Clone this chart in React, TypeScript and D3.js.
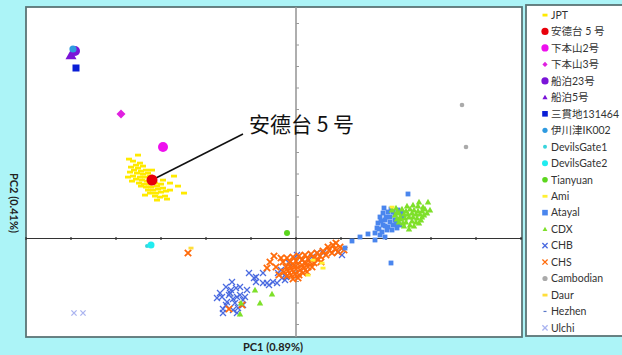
import React from "react";
import * as d3 from "d3";

// PC scores (x1000)
const JPT: [number, number][] = [
  [-31.6, 16.7], [-33.4, 15.9], [-32.6, 15.5], [-31.2, 15.1], [-32.0, 14.7], [-33.0, 14.3], [-30.6, 14.5],
  [-31.6, 14.1], [-32.4, 13.7], [-31.0, 13.5], [-30.0, 13.7], [-33.2, 13.3], [-31.8, 13.1], [-30.6, 12.9],
  [-29.6, 13.1], [-32.6, 12.5], [-31.2, 12.3], [-30.2, 12.3], [-29.2, 12.5], [-32.0, 11.9], [-30.8, 11.7],
  [-29.8, 11.5], [-28.6, 11.9], [-31.4, 11.1], [-30.4, 10.9], [-29.4, 10.9], [-28.2, 11.1], [-31.0, 10.5],
  [-30.0, 10.3], [-29.0, 10.3], [-27.8, 10.5], [-27.0, 10.9], [-29.6, 9.7], [-28.6, 9.7], [-27.6, 9.9],
  [-26.6, 10.1], [-29.2, 9.1], [-28.0, 9.1], [-27.0, 9.3], [-26.0, 9.5], [-28.2, 8.5], [-27.2, 8.3],
  [-26.2, 8.5], [-27.8, 7.7], [-26.6, 11.7], [-25.2, 11.1], [-23.6, 10.5], [-22.4, 9.1], [-25.8, 7.9],
  [-32.8, 11.5], [-33.6, 12.3], [-30.2, 8.7], [-25.2, 9.7], [-24.4, 12.5], [-28.8, 13.7],
];
const ANDEDAI5: [number, number][] = [[-28.8, 11.7]];
const SHIMOMOTO2: [number, number][] = [[-26.6, 18.3]];
const SHIMOMOTO3: [number, number][] = [[-35.0, 24.9]];
const FUNADOMARI23: [number, number][] = [[-44.2, 37.5]];
const FUNADOMARI5: [number, number][] = [[-45.0, 36.7]];
const SANGANJI: [number, number][] = [[-44.0, 34.1]];
const IKAWAZU: [number, number][] = [[-44.6, 37.9]];
const DEVILSGATE1: [number, number][] = [[-29.8, -1.5]];
const DEVILSGATE2: [number, number][] = [[-29.0, -1.3]];
const TIANYUAN: [number, number][] = [[-1.8, 1.1]];
const AMI: [number, number][] = [[19.2, 6.3], [3.4, -4.3], [5.2, -4.9], [5.4, -5.9], [2.4, -7.3]];
const ATAYAL: [number, number][] = [
  [22.4, 8.9], [17.4, 5.1], [16.8, 4.3], [16.4, 3.1], [16.2, 2.1], [15.8, 1.1], [17.2, 1.3], [18.2, 1.7],
  [19.2, 1.7], [20.2, 2.1], [20.8, 2.7], [20.4, 3.7], [19.8, 4.7], [18.4, 5.3], [19.4, 5.3], [17.8, 3.7],
  [18.8, 3.3], [17.4, 2.7], [18.4, 2.3], [19.4, 2.7], [19.8, 3.7], [21.4, 4.3], [21.2, 5.1], [16.8, 0.7],
  [17.8, 0.3], [14.4, 0.9], [15.8, -0.3], [12.8, 0.3], [19.0, -4.9], [18.0, 4.3], [18.8, 4.3], [17.0, 3.5],
  [17.8, 2.5], [16.6, 1.9], [20.0, 2.9], [19.0, 5.9], [17.6, 6.1], [20.4, 5.7], [9.8, -1.9], [11.2, -0.5],
];
const CDX: [number, number][] = [
  [26.4, 7.3], [24.4, 6.5], [23.4, 6.7], [22.2, 6.5], [25.4, 6.3], [26.2, 5.1], [25.2, 4.3], [24.6, 3.1],
  [22.8, 2.7], [21.4, 3.1], [20.8, 4.3], [20.2, 5.3], [21.2, 5.9], [22.0, 5.5], [22.8, 5.9], [23.6, 5.7],
  [24.4, 5.5], [25.2, 5.5], [25.8, 5.9], [19.8, 4.7], [20.6, 5.1], [21.6, 4.9], [22.4, 4.9], [23.2, 5.1],
  [24.0, 4.9], [24.8, 4.9], [25.6, 4.7], [20.2, 3.9], [21.0, 3.9], [21.8, 4.1], [22.6, 4.3], [23.4, 4.3],
  [24.2, 4.1], [25.0, 3.7], [20.6, 3.3], [22.0, 3.3], [23.2, 3.5], [24.0, 3.3], [21.6, 2.5], [23.6, 2.5],
  [22.6, 1.9], [26.8, 5.7], [19.2, 5.7], [20.0, 6.1], [24.6, 7.3],
  [-8.2, -10.3], [-7.2, -12.9], [-4.8, -11.1], [-11.0, -12.9], [-11.2, -15.1],
];
const CHB: [number, number][] = [
  [-15.8, -11.9], [-14.8, -11.7], [-14.0, -9.7], [-13.8, -12.7], [-13.2, -10.9], [-12.8, -8.7], [-12.6, -14.3],
  [-14.6, -14.1], [-14.6, -14.9], [-12.2, -12.9], [-12.0, -9.9], [-11.8, -11.7], [-11.6, -13.9], [-11.2, -9.7],
  [-10.6, -12.3], [-10.6, -13.3], [-9.8, -10.3], [-11.8, -14.9], [-13.4, -11.3], [-12.6, -12.1], [-11.2, -11.3],
  [-14.0, -13.3], [-15.2, -10.9], [-10.2, -11.7], [-13.0, -10.3], [-9.4, -6.9], [-8.0, -7.7], [-8.0, -8.7],
  [-6.6, -6.9], [-6.6, -8.9], [-5.8, -8.9], [-4.6, -8.7], [-3.6, -6.9], [-3.0, -6.3], [-2.8, -7.9],
  [-2.2, -8.3], [-5.4, -9.3], [-3.8, -8.9], [-2.0, -7.7], [-8.4, -7.9], [4.2, -2.9], [5.4, -2.9],
  [3.2, -3.7], [1.2, -4.3], [9.2, -3.3], [8.4, -2.7], [0.2, -3.3], [-1.4, -4.9],
];
const CHS: [number, number][] = [
  [-2.6, -4.7], [-1.8, -3.9], [-1.2, -4.7], [-0.6, -3.7], [0.0, -4.5], [0.6, -3.5], [1.2, -4.3], [1.8, -3.3],
  [2.4, -4.1], [3.0, -3.1], [3.6, -3.9], [4.2, -2.9], [4.8, -3.5], [5.4, -2.5], [6.0, -3.3], [6.6, -2.3],
  [7.2, -2.9], [7.8, -2.1], [8.4, -2.7], [-2.0, -5.7], [-1.2, -5.5], [-0.4, -5.3], [0.4, -5.1], [1.2, -5.3],
  [2.0, -4.9], [2.8, -4.7], [3.6, -4.9], [4.4, -4.3], [-2.4, -6.7], [-1.6, -6.5], [-0.8, -6.3], [0.0, -6.1],
  [0.8, -6.3], [1.6, -5.9], [2.4, -5.7], [3.2, -5.7], [-1.8, -7.5], [-1.0, -7.3], [-0.2, -7.1], [0.6, -7.3],
  [1.4, -6.9], [2.2, -6.7], [-0.6, -8.1], [0.4, -7.9], [-3.0, -3.9], [-4.0, -5.7], [-5.2, -4.7], [-4.4, -3.5],
  [5.0, -4.7], [6.4, -1.7], [7.4, -1.3], [8.0, -0.9], [8.8, -1.7], [9.6, -2.3], [-3.4, -7.3], [-5.8, -5.9],
  [-13.4, -14.1], [-10.8, -13.3], [-21.6, -2.9],
];
const CAMBODIAN: [number, number][] = [[33.2, 26.7], [34.0, 18.3]];
const DAUR: [number, number][] = [[-21.0, -1.9]];
const HEZHEN: [number, number][] = [[-12.8, -11.5]];
const ULCHI: [number, number][] = [[-44.4, -14.9], [-42.6, -14.9]];

const X_DOMAIN = [-54, 45.2];
const Y_DOMAIN = [-19.7, 46.3];
const X_TICK_STEP = 9;
const Y_TICK_STEP = 4.3;

type Shape = "dash" | "circle" | "diamond" | "triangle" | "square" | "x" | "smalldash";
interface Series {
  name: string;
  data: [number, number][];
  shape: Shape;
  color: string;
  size: number;
  lsize: number;
}

const SERIES: Series[] = [
  { name: "JPT", data: JPT, shape: "dash", color: "#ffea00", size: 6, lsize: 5 },
  { name: "安德台 5 号", data: ANDEDAI5, shape: "circle", color: "#e8000b", size: 5.5, lsize: 3.6 },
  { name: "下本山2号", data: SHIMOMOTO2, shape: "circle", color: "#ee10ee", size: 5, lsize: 3.6 },
  { name: "下本山3号", data: SHIMOMOTO3, shape: "diamond", color: "#e020e0", size: 4.5, lsize: 2.6 },
  { name: "船泊23号", data: FUNADOMARI23, shape: "circle", color: "#7a14d8", size: 5, lsize: 3.6 },
  { name: "船泊5号", data: FUNADOMARI5, shape: "triangle", color: "#7a14d8", size: 5.5, lsize: 2.6 },
  { name: "三貫地131464", data: SANGANJI, shape: "square", color: "#0a1ed6", size: 3.5, lsize: 2.8 },
  { name: "伊川津IK002", data: IKAWAZU, shape: "circle", color: "#2e9ae0", size: 3.6, lsize: 2.6 },
  { name: "DevilsGate1", data: DEVILSGATE1, shape: "circle", color: "#38d4dc", size: 2, lsize: 2 },
  { name: "DevilsGate2", data: DEVILSGATE2, shape: "circle", color: "#20ecf0", size: 3.5, lsize: 3 },
  { name: "Tianyuan", data: TIANYUAN, shape: "circle", color: "#5cd61e", size: 3, lsize: 2.8 },
  { name: "Ami", data: AMI, shape: "dash", color: "#fff033", size: 5, lsize: 5 },
  { name: "Atayal", data: ATAYAL, shape: "square", color: "#4a86ee", size: 2.4, lsize: 2.8 },
  { name: "CDX", data: CDX, shape: "triangle", color: "#7ee02a", size: 3.2, lsize: 2.4 },
  { name: "CHB", data: CHB, shape: "x", color: "#4a6ae0", size: 3, lsize: 2.6 },
  { name: "CHS", data: CHS, shape: "x", color: "#ff6a0a", size: 3.2, lsize: 2.6 },
  { name: "Cambodian", data: CAMBODIAN, shape: "circle", color: "#aaaaaa", size: 2.3, lsize: 2.6 },
  { name: "Daur", data: DAUR, shape: "dash", color: "#ffde3a", size: 5, lsize: 5 },
  { name: "Hezhen", data: HEZHEN, shape: "smalldash", color: "#5a78c8", size: 3, lsize: 3 },
  { name: "Ulchi", data: ULCHI, shape: "x", color: "#aab4f0", size: 2.6, lsize: 2.6 },
];

function Marker({ shape, x, y, s, color, sw = 1.3 }: { shape: Shape; x: number; y: number; s: number; color: string; sw?: number }) {
  switch (shape) {
    case "dash":
      return <rect x={x - s / 2} y={y - 1.3} width={s} height={2.8} fill={color} />;
    case "smalldash":
      return <rect x={x - s / 2} y={y - 0.6} width={s} height={1.2} fill={color} />;
    case "circle":
      return <circle cx={x} cy={y} r={s} fill={color} />;
    case "square":
      return <rect x={x - s} y={y - s} width={2 * s} height={2 * s} fill={color} />;
    case "diamond":
      return <path d={`M${x},${y - s}L${x + s},${y}L${x},${y + s}L${x - s},${y}Z`} fill={color} />;
    case "triangle":
      return <path d={`M${x},${y - s}L${x + s},${y + s * 0.75}L${x - s},${y + s * 0.75}Z`} fill={color} />;
    case "x":
      return (
        <path
          d={`M${x - s},${y - s}L${x + s},${y + s}M${x - s},${y + s}L${x + s},${y - s}`}
          stroke={color}
          strokeWidth={sw}
          fill="none"
        />
      );
  }
  return null;
}

export default function App() {
  const W = 622;
  const H = 355;
  const left = 26, right = 522, top = 7, bottom = 337;
  const x = d3.scaleLinear().domain(X_DOMAIN).range([left, right]);
  const y = d3.scaleLinear().domain(Y_DOMAIN).range([bottom, top]);
  const x0 = x(0);
  const y0 = y(0);
  const xTicks = d3.range(Math.ceil(X_DOMAIN[0] / X_TICK_STEP), Math.floor(X_DOMAIN[1] / X_TICK_STEP) + 1).map((i) => i * X_TICK_STEP);
  const yTicks = d3.range(Math.ceil(Y_DOMAIN[0] / Y_TICK_STEP), Math.floor(Y_DOMAIN[1] / Y_TICK_STEP) + 1).map((i) => i * Y_TICK_STEP);

  const drawOrder = [
    "Cambodian", "Ulchi", "CHB", "CHS", "Atayal", "CDX", "Ami", "Daur", "Hezhen", "JPT",
    "Tianyuan", "DevilsGate1", "DevilsGate2", "下本山2号", "下本山3号", "三貫地131464",
    "船泊5号", "船泊23号", "伊川津IK002", "安德台 5 号",
  ];
  const byName = new Map(SERIES.map((s) => [s.name, s]));
  const red = ANDEDAI5[0];

  const legendX = 545;
  const legendY0 = 15;
  const legendStep = 16.47;

  return (
    <svg width={W} height={H} style={{ position: "absolute", left: 0, top: 0 }} fontFamily="Lato, 'Noto Sans CJK JP', sans-serif">
      <rect x={0} y={0} width={W} height={H} fill="#acf4f7" />
      {/* plot frame */}
      <rect x={left} y={top} width={right - left} height={bottom - top} fill="#ffffff" stroke="#5b7576" strokeWidth={1.8} />
      {/* legend frame */}
      <rect x={526} y={5} width={110} height={331} fill="#ffffff" stroke="#5b7576" strokeWidth={1.8} />

      {/* vertical zero axis */}
      <line x1={x0} x2={x0} y1={top} y2={bottom} stroke="#9a9a9a" strokeWidth={1.6} />
      {yTicks.map((t) => (
        <line key={"yt" + t} x1={x0} x2={x0 + 3} y1={y(t)} y2={y(t)} stroke="#9a9a9a" strokeWidth={1} />
      ))}
      {/* horizontal zero axis */}
      <line x1={left} x2={right} y1={y0} y2={y0} stroke="#333333" strokeWidth={1.2} />
      {xTicks.map((t) => (
        <line key={"xt" + t} x1={x(t)} x2={x(t)} y1={y0 - 1.5} y2={y0 + 1.5} stroke="#333333" strokeWidth={1.2} />
      ))}

      {/* points */}
      {drawOrder.map((n) => {
        const s = byName.get(n)!;
        const sw = n === "CHS" ? 1.8 : 1.3;
        return (
          <g key={n}>
            {n === "安德台 5 号" && (
              <line x1={x(red[0])} y1={y(red[1])} x2={243} y2={134} stroke="#111" strokeWidth={1.5} />
            )}
            {s.data.map((d, i) => (
              <Marker key={i} shape={s.shape} x={x(d[0])} y={y(d[1])} s={s.size} color={s.color} sw={sw} />
            ))}
          </g>
        );
      })}

      {/* annotation */}
      <text x={249} y={132} fontSize={21} fill="#111" fontFamily="'Noto Sans CJK SC', sans-serif">
        安德台 5 号
      </text>

      {/* axis titles */}
      <text x={273} y={351} textAnchor="middle" fontSize={11} fontWeight="bold" fill="#222">
        PC1 (0.89%)
      </text>
      <text
        transform={`translate(10,203) rotate(90)`}
        textAnchor="middle"
        fontSize={11}
        fontWeight="bold"
        fill="#222"
      >
        PC2 (0.41%)
      </text>

      {/* legend */}
      {SERIES.map((s, i) => {
        const ly = legendY0 + i * legendStep;
        return (
          <g key={"lg" + s.name}>
            <Marker shape={s.shape} x={legendX} y={ly} s={s.lsize} color={s.color} />
            <text x={551} y={ly + 3.8} fontSize={10.5} fill="#333">
              {s.name}
            </text>
          </g>
        );
      })}
    </svg>
  );
}
